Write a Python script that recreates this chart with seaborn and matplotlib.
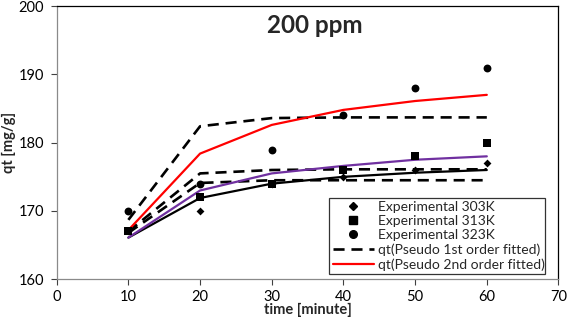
import matplotlib

matplotlib.use("Agg")
import matplotlib.pyplot as plt
import pandas as pd
import seaborn as sns
from matplotlib.lines import Line2D

# data
time_min = [10, 20, 30, 40, 50, 60]
exp_303 = [167, 170, 174, 175, 176, 177]
exp_313 = [167, 172, 174, 176, 178, 180]
exp_323 = [170, 174, 179, 184, 188, 191]
pfo_303 = [166.8, 174.1, 174.5, 174.5, 174.5, 174.5]
pfo_313 = [167.0, 175.5, 176.0, 176.1, 176.1, 176.1]
pfo_323 = [168.7, 182.4, 183.6, 183.7, 183.7, 183.7]
pso_303 = [166.1, 171.9, 174.0, 175.0, 175.6, 176.0]
pso_313 = [166.1, 173.0, 175.5, 176.6, 177.5, 178.0]
pso_323 = [167.2, 178.4, 182.6, 184.8, 186.1, 187.0]
x_ticks = [0, 10, 20, 30, 40, 50, 60, 70]
y_ticks = [160, 170, 180, 190, 200]

sns.set_style("white")
plt.rcParams["font.family"] = ["Lato", "DejaVu Sans"]

df = pd.DataFrame({
    "time": time_min,
    "exp_303": exp_303, "exp_313": exp_313, "exp_323": exp_323,
    "pfo_303": pfo_303, "pfo_313": pfo_313, "pfo_323": pfo_323,
    "pso_303": pso_303, "pso_313": pso_313, "pso_323": pso_323,
})

fig = plt.figure(figsize=(5.67, 3.19), dpi=100)
ax = fig.add_axes([0.1, 0.1245, 0.885, 0.8565])

dash = (0, (4.2, 2.6))
for col in ["pfo_303", "pfo_313", "pfo_323"]:
    sns.lineplot(data=df, x="time", y=col, ax=ax, color="black", lw=1.9,
                 linestyle=dash, zorder=2)
sns.lineplot(data=df, x="time", y="pso_303", ax=ax, color="black", lw=1.6, zorder=2)
sns.lineplot(data=df, x="time", y="pso_313", ax=ax, color="#7030a0", lw=1.6, zorder=2)
sns.lineplot(data=df, x="time", y="pso_323", ax=ax, color="#ff0000", lw=1.6, zorder=2)

sns.scatterplot(data=df, x="time", y="exp_303", ax=ax, marker="D", s=16,
                color="black", edgecolor="black", linewidth=0, zorder=3)
sns.scatterplot(data=df, x="time", y="exp_313", ax=ax, marker="s", s=30,
                color="black", edgecolor="black", linewidth=0, zorder=3)
sns.scatterplot(data=df, x="time", y="exp_323", ax=ax, marker="o", s=32,
                color="black", edgecolor="black", linewidth=0, zorder=3)

ax.set_xlim(0, 70)
ax.set_ylim(160, 200)
ax.set_xticks(x_ticks)
ax.set_yticks(y_ticks)
ax.tick_params(axis="both", labelsize=10.5, colors="#404040", length=4,
               width=0.8, direction="out", bottom=True, left=True)
ax.tick_params(axis="x", pad=4)
ax.tick_params(axis="y", pad=5)
for lab in ax.get_xticklabels() + ax.get_yticklabels():
    lab.set_color("black")
for side in ["left", "bottom"]:
    ax.spines[side].set_color("#8a8a8a")
    ax.spines[side].set_linewidth(0.9)
for side in ["top", "right"]:
    ax.spines[side].set_color("black")
    ax.spines[side].set_linewidth(0.9)

ax.set_xlabel("time [minute]", fontsize=10.5, fontweight="bold", labelpad=-1)
ax.set_ylabel("qt [mg/g]", fontsize=10.5, fontweight="bold", labelpad=2)
ax.text(0.514, 0.93, "200 ppm", transform=ax.transAxes, ha="center", va="center",
        fontsize=17.5, fontweight="bold")

handles = [
    Line2D([], [], ls="none", marker="D", ms=4, color="black"),
    Line2D([], [], ls="none", marker="s", ms=5.5, color="black"),
    Line2D([], [], ls="none", marker="o", ms=5.5, color="black"),
    Line2D([], [], color="black", lw=1.9, linestyle=dash),
    Line2D([], [], color="#ff0000", lw=1.6),
]
labels = ["Experimental 303K", "Experimental 313K", "Experimental 323K",
          "qt(Pseudo 1st order fitted)", "qt(Pseudo 2nd order fitted)"]
leg = ax.legend(handles, labels, loc="lower left", bbox_to_anchor=(0.543, 0.019, 0.43, 0.314),
                mode="expand", fontsize=10, frameon=True, fancybox=False,
                edgecolor="black", handlelength=3.0, handletextpad=0.25,
                labelspacing=0.15, borderpad=0.25, borderaxespad=0)
leg.get_frame().set_linewidth(0.9)

fig.savefig("out.png", dpi=100)
plt.close(fig)
